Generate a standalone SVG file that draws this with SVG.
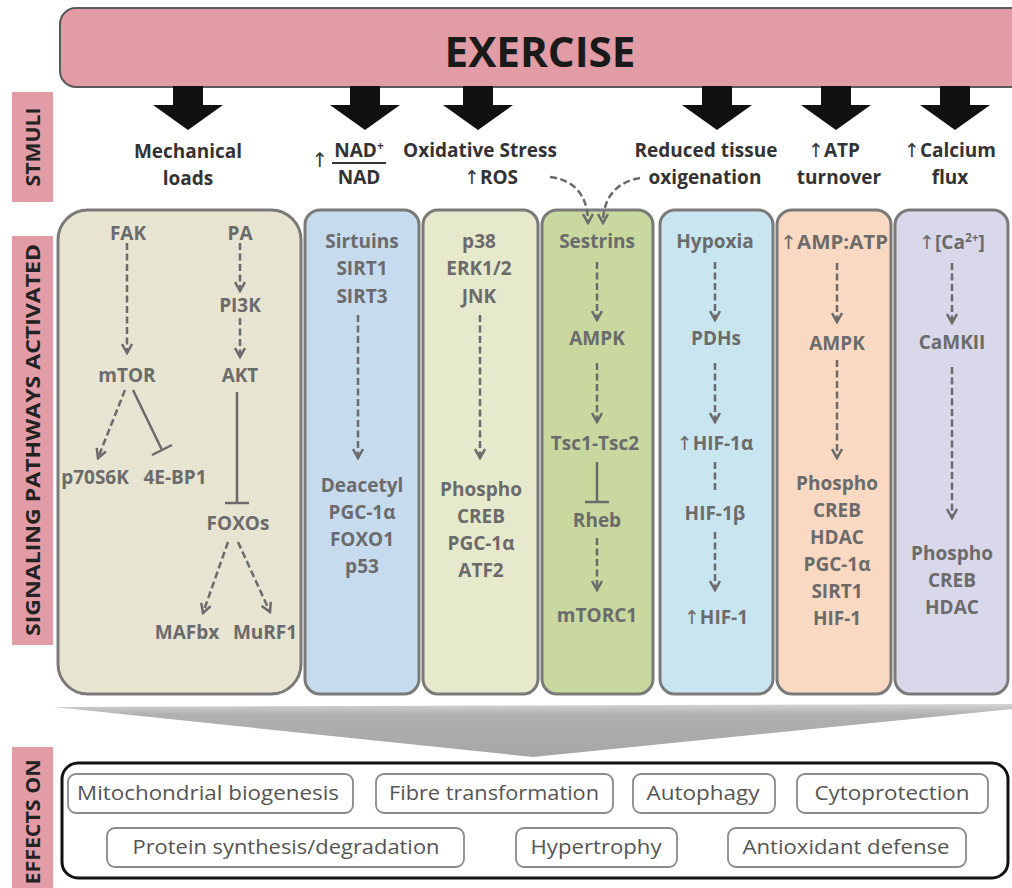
<svg xmlns="http://www.w3.org/2000/svg" width="1012" height="888" viewBox="0 0 1012 888">
<style>
.st{font-family:"Open Sans","Liberation Sans",sans-serif;font-weight:bold;font-size:19px;fill:#333;text-anchor:middle}
.bx{font-family:"Open Sans","Liberation Sans",sans-serif;font-weight:bold;font-size:19px;fill:#6b6b6b;text-anchor:middle}
.ef{font-family:"Open Sans","Liberation Sans",sans-serif;font-size:20px;fill:#555;text-anchor:middle}
.side{font-family:"Open Sans","Liberation Sans",sans-serif;font-weight:bold;font-size:20px;fill:#222;text-anchor:middle}
.up{font-family:"DejaVu Sans",sans-serif;font-weight:normal}
.pink{fill:#e29ca5}
.panel{stroke:#7a7a7a;stroke-width:3}
.dash{fill:none;stroke:#6b6b6b;stroke-width:2.5;stroke-dasharray:7 3.5}
.solid{fill:none;stroke:#6b6b6b;stroke-width:2.5}
.bigarrow{fill:#111}
.ebox{fill:#fff;stroke:#8a8a8a;stroke-width:1.8}
</style>
<defs>
<marker id="ah" viewBox="0 0 12 12" refX="10" refY="6" markerWidth="12" markerHeight="12" markerUnits="userSpaceOnUse" orient="auto">
<path d="M1,1 L10,6 L1,11" fill="none" stroke="#6b6b6b" stroke-width="2.5" stroke-dasharray="none"/>
</marker>
<linearGradient id="chev" x1="0" y1="0" x2="0" y2="1">
<stop offset="0" stop-color="#d3d4d6"/>
<stop offset="0.2" stop-color="#aeb0b2"/>
<stop offset="1" stop-color="#a4a6a8"/>
</linearGradient>
</defs>

<g id="exercise">
<rect x="60" y="8" width="1000" height="79" rx="16" fill="#e29ca5" stroke="#5a5a5a" stroke-width="2"/>
<text x="540" y="67" font-family="'Open Sans','Liberation Sans',sans-serif" font-weight="bold" font-size="42" fill="#1a1a1a" text-anchor="middle" textLength="191" lengthAdjust="spacingAndGlyphs">EXERCISE</text>
</g>

<g id="big-arrows">
<polygon class="bigarrow" points="173,86 203,86 203,105 223,105 188,130 153,105 173,105"/>
<polygon class="bigarrow" points="350,86 380,86 380,105 400,105 365,130 330,105 350,105"/>
<polygon class="bigarrow" points="463,86 493,86 493,105 513,105 478,130 443,105 463,105"/>
<polygon class="bigarrow" points="702,86 732,86 732,105 752,105 717,130 682,105 702,105"/>
<polygon class="bigarrow" points="821,86 851,86 851,105 871,105 836,130 801,105 821,105"/>
<polygon class="bigarrow" points="940,86 970,86 970,105 990,105 955,130 920,105 940,105"/>
</g>

<g id="side-labels">
<rect class="pink" x="12" y="92" width="41" height="110"/>
<text class="side" transform="translate(40,147) rotate(-90)" textLength="79" lengthAdjust="spacingAndGlyphs">STMULI</text>
<rect class="pink" x="12" y="236" width="41" height="409"/>
<text class="side" transform="translate(40,440) rotate(-90)" textLength="392" lengthAdjust="spacingAndGlyphs">SIGNALING PATHWAYS ACTIVATED</text>
<rect class="pink" x="12" y="747" width="41" height="145"/>
<text class="side" transform="translate(40,822) rotate(-90)" textLength="125" lengthAdjust="spacingAndGlyphs">EFFECTS ON</text>
</g>

<g id="stimuli">
<text class="st" x="188" y="158">Mechanical</text>
<text class="st" x="188" y="185">loads</text>
<text class="st" x="320" y="167"><tspan class="up" font-size="20">↑</tspan></text>
<text class="st" x="359" y="157">NAD<tspan font-size="12" dy="-7">+</tspan></text>
<line x1="332" y1="163" x2="386" y2="163" stroke="#333" stroke-width="2"/>
<text class="st" x="359" y="184">NAD</text>
<text class="st" x="480" y="157">Oxidative Stress</text>
<text class="st" x="491" y="184"><tspan class="up">↑</tspan>ROS</text>
<text class="st" x="706" y="157">Reduced tissue</text>
<text class="st" x="705" y="184">oxigenation</text>
<text class="st" x="834" y="157"><tspan class="up">↑</tspan>ATP</text>
<text class="st" x="839" y="184">turnover</text>
<text class="st" x="950" y="157"><tspan class="up">↑</tspan>Calcium</text>
<text class="st" x="950" y="184">flux</text>
</g>

<g id="panel-mechanical">
<rect class="panel" x="58" y="210" width="243" height="484" rx="30" fill="#e7e4d2"/>
<text class="bx" x="128" y="240">FAK</text>
<text class="bx" x="240" y="240">PA</text>
<text class="bx" x="240" y="312">PI3K</text>
<text class="bx" x="127" y="382">mTOR</text>
<text class="bx" x="240" y="382">AKT</text>
<text class="bx" x="95" y="484">p70S6K</text>
<text class="bx" x="175" y="484">4E-BP1</text>
<text class="bx" x="238" y="530">FOXOs</text>
<text class="bx" x="187" y="639">MAFbx</text>
<text class="bx" x="265" y="639">MuRF1</text>
</g>

<g id="panel-nad">
<rect class="panel" x="305" y="210" width="114" height="484" rx="15" fill="#c6dbee"/>
<text class="bx" x="362" y="248">Sirtuins</text>
<text class="bx" x="362" y="275">SIRT1</text>
<text class="bx" x="362" y="303">SIRT3</text>
<text class="bx" x="362" y="492">Deacetyl</text>
<text class="bx" x="362" y="519">PGC-1α</text>
<text class="bx" x="362" y="546">FOXO1</text>
<text class="bx" x="362" y="573">p53</text>
</g>

<g id="panel-oxidative">
<rect class="panel" x="423" y="210" width="115" height="484" rx="15" fill="#e6e9cc"/>
<text class="bx" x="479" y="248">p38</text>
<text class="bx" x="479" y="275">ERK1/2</text>
<text class="bx" x="479" y="303">JNK</text>
<text class="bx" x="481" y="496">Phospho</text>
<text class="bx" x="481" y="523">CREB</text>
<text class="bx" x="481" y="550">PGC-1α</text>
<text class="bx" x="481" y="577">ATF2</text>
</g>

<g id="panel-sestrins">
<rect class="panel" x="542" y="210" width="111" height="484" rx="15" fill="#c8d89f"/>
<text class="bx" x="597" y="248">Sestrins</text>
<text class="bx" x="597" y="345">AMPK</text>
<text class="bx" x="595" y="450">Tsc1-Tsc2</text>
<text class="bx" x="597" y="527">Rheb</text>
<text class="bx" x="597" y="622">mTORC1</text>
</g>

<g id="panel-hypoxia">
<rect class="panel" x="660" y="210" width="113" height="484" rx="15" fill="#c9e6f0"/>
<text class="bx" x="715" y="248">Hypoxia</text>
<text class="bx" x="716" y="345">PDHs</text>
<text class="bx" x="715" y="450"><tspan class="up">↑</tspan>HIF-1α</text>
<text class="bx" x="715" y="520">HIF-1β</text>
<text class="bx" x="716" y="624"><tspan class="up">↑</tspan>HIF-1</text>
</g>

<g id="panel-atp">
<rect class="panel" x="777" y="210" width="114" height="484" rx="15" fill="#fad9c3"/>
<text class="bx" x="834" y="249" textLength="108" lengthAdjust="spacingAndGlyphs"><tspan class="up">↑</tspan>AMP:ATP</text>
<text class="bx" x="837" y="350">AMPK</text>
<text class="bx" x="837" y="490">Phospho</text>
<text class="bx" x="837" y="517">CREB</text>
<text class="bx" x="837" y="544">HDAC</text>
<text class="bx" x="837" y="571">PGC-1α</text>
<text class="bx" x="837" y="598">SIRT1</text>
<text class="bx" x="837" y="625">HIF-1</text>
</g>

<g id="panel-calcium">
<rect class="panel" x="895" y="210" width="113" height="484" rx="15" fill="#d9d7ea"/>
<text class="bx" x="952" y="249"><tspan class="up">↑</tspan>[Ca<tspan font-size="12" dy="-7">2+</tspan><tspan dy="7">]</tspan></text>
<text class="bx" x="952" y="349">CaMKII</text>
<text class="bx" x="952" y="560">Phospho</text>
<text class="bx" x="952" y="587">CREB</text>
<text class="bx" x="952" y="614">HDAC</text>
</g>

<g id="connectors">
<path class="dash" d="M550,177 C575,180 588,196 588,223" marker-end="url(#ah)"/>
<path class="dash" d="M640,178 C616,182 603,198 603,223" marker-end="url(#ah)"/>
<path class="dash" d="M127,243 L127,353" marker-end="url(#ah)"/>
<path class="dash" d="M240,243 L240,291" marker-end="url(#ah)"/>
<path class="dash" d="M240,318 L240,357" marker-end="url(#ah)"/>
<path class="solid" d="M237,392 L237,503 M225,503 L249,503"/>
<path class="dash" d="M125,390 L98,458" marker-end="url(#ah)"/>
<path class="solid" d="M133,390 L162,450 M152,455 L172,445"/>
<path class="dash" d="M228,542 L203,613" marker-end="url(#ah)"/>
<path class="dash" d="M238,542 L270,612" marker-end="url(#ah)"/>
<path class="dash" d="M358,315 L358,458" marker-end="url(#ah)"/>
<path class="dash" d="M480,315 L480,458" marker-end="url(#ah)"/>
<path class="dash" d="M597,262 L597,320" marker-end="url(#ah)"/>
<path class="dash" d="M597,363 L597,422" marker-end="url(#ah)"/>
<path class="solid" d="M597,462 L597,502 M585,502 L609,502"/>
<path class="dash" d="M597,538 L597,590" marker-end="url(#ah)"/>
<path class="dash" d="M715,262 L715,320" marker-end="url(#ah)"/>
<path class="dash" d="M715,363 L715,422" marker-end="url(#ah)"/>
<path class="dash" d="M715,462 L715,493"/>
<path class="dash" d="M715,532 L715,590" marker-end="url(#ah)"/>
<path class="dash" d="M837,263 L837,322" marker-end="url(#ah)"/>
<path class="dash" d="M837,360 L837,458" marker-end="url(#ah)"/>
<path class="dash" d="M952,263 L952,323" marker-end="url(#ah)"/>
<path class="dash" d="M952,367 L952,518" marker-end="url(#ah)"/>
</g>

<g id="convergence">
<polygon points="54,707 1012,704 1012,709 533,757" fill="url(#chev)"/>
</g>

<g id="effects">
<rect x="62" y="763" width="946" height="115" rx="16" fill="#fff" stroke="#111" stroke-width="3"/>
<g id="eff-mito"><rect class="ebox" x="68" y="774" width="285" height="39" rx="8"/><text class="ef" x="208" y="800" textLength="262" lengthAdjust="spacingAndGlyphs">Mitochondrial biogenesis</text></g>
<g id="eff-fibre"><rect class="ebox" x="376" y="774" width="237" height="39" rx="8"/><text class="ef" x="494" y="800" textLength="210" lengthAdjust="spacingAndGlyphs">Fibre transformation</text></g>
<g id="eff-autophagy"><rect class="ebox" x="633" y="774" width="142" height="39" rx="8"/><text class="ef" x="703" y="800" textLength="113" lengthAdjust="spacingAndGlyphs">Autophagy</text></g>
<g id="eff-cyto"><rect class="ebox" x="797" y="774" width="191" height="39" rx="8"/><text class="ef" x="892" y="800" textLength="155" lengthAdjust="spacingAndGlyphs">Cytoprotection</text></g>
<g id="eff-protein"><rect class="ebox" x="107" y="828" width="357" height="39" rx="8"/><text class="ef" x="286" y="854" textLength="307" lengthAdjust="spacingAndGlyphs">Protein synthesis/degradation</text></g>
<g id="eff-hyper"><rect class="ebox" x="516" y="828" width="161" height="39" rx="8"/><text class="ef" x="596" y="854" textLength="131" lengthAdjust="spacingAndGlyphs">Hypertrophy</text></g>
<g id="eff-antiox"><rect class="ebox" x="728" y="828" width="238" height="39" rx="8"/><text class="ef" x="846" y="854" textLength="207" lengthAdjust="spacingAndGlyphs">Antioxidant defense</text></g>
</g>
</svg>
